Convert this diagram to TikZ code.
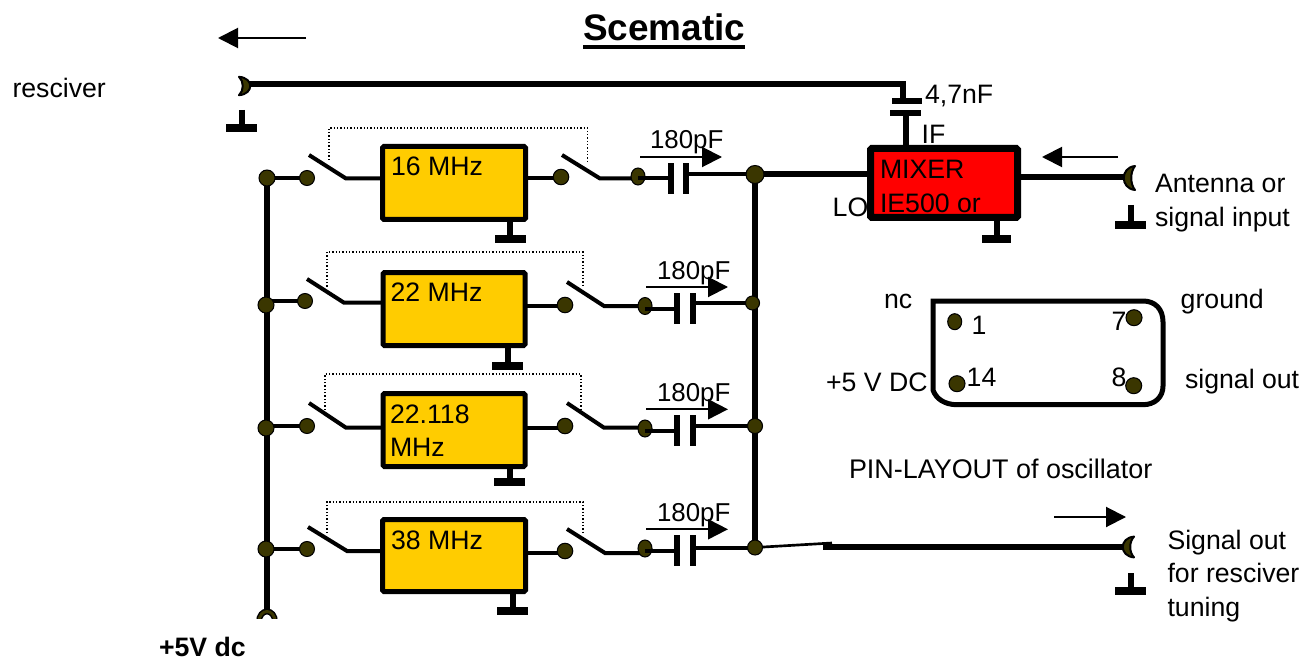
\documentclass[tikz,border=0pt]{standalone}
\usepackage{fontspec}
\setmainfont{Liberation Sans}
\usetikzlibrary{arrows.meta,shapes.geometric,backgrounds,calc}
\definecolor{dotc}{HTML}{3A3600}
\definecolor{oscc}{HTML}{FFCC00}
\tikzset{
  wire/.style={line width=3pt,draw=black},
  bigwire/.style={line width=4.5pt,draw=black},
  blk/.style={draw=black,line width=3.75pt,rounded corners=1pt,inner sep=0pt,outer sep=0pt},
  term/.style={ellipse,fill=dotc,draw=black,line width=.8pt,inner sep=0pt,outer sep=0pt,minimum width=#1*0.75pt,minimum height=#1*0.75pt},
  termtall/.style={ellipse,fill=dotc,draw=black,line width=.8pt,inner sep=0pt,outer sep=0pt,minimum width=14*0.75pt,minimum height=17*0.75pt},
  lbl/.style={font=\fontsize{20}{24}\selectfont,inner sep=0pt,outer sep=0pt,anchor=base west,yshift=-0.75pt},
  gndbar/.style={fill=black,inner sep=0pt,outer sep=0pt,minimum width=23.25pt,minimum height=6pt},
  plate/.style={fill=black,inner sep=0pt,outer sep=0pt,minimum width=4.5pt,minimum height=23.5pt},
  hplate/.style={fill=black,inner sep=0pt,outer sep=0pt,minimum width=22.5pt,minimum height=4.5pt},
  flow/.style={line width=1.5pt,-{Triangle[length=15pt,width=15pt]}},
  link/.style={line width=.95pt,dash pattern=on 1pt off 1.5pt},
}
\newcommand\txt[4]{\node[lbl] (#1) at (#2,#3) {#4};}
\newcommand\captxt[3]{\node[lbl,font=\fontsize{19.4}{23}\selectfont] (#1) at (#2,#3) {180pF};}
\newcommand\blkbox[6]{\node[blk,fill=#6,minimum width={(#4-#2-5)*0.75pt},minimum height={(#5-#3-5)*0.75pt}] (#1) at ({(#2+#4)/2},{(#3+#5)/2}) {};}
\newcommand\flowarr[4]{\coordinate (#1a) at (#2,#4);\coordinate (#1b) at (#3,#4);\draw[flow] (#1a) -- (#1b);}
\newcommand\swlink[6]{\coordinate (#1a) at (#2,#6);\coordinate (#1b) at (#2,#3);\coordinate (#1c) at (#4,#3);\coordinate (#1d) at (#4,#5);\draw[link] (#1a) -- (#1b) -- (#1c) -- (#1d);}
\newcommand\jack[5]{\coordinate (#1) at (#2,#3);
  \begin{scope}[shift={(#2,#3)},xscale=#4,yscale=#5]
  \draw[fill=dotc,draw=black,line width=1.5pt,line join=round] (-4,-8) .. controls (11,-7) and (11,7) .. (-4,8)
    .. controls (1,4) and (1,-4) .. cycle;
  \end{scope}}
\begin{document}
\begin{tikzpicture}[x=0.75pt,y=-0.75pt]
\useasboundingbox (0,0) rectangle (1316,659);
% ---- blocks
\blkbox{o1}{380}{144}{528}{222}{oscc}
\blkbox{o2}{380.5}{270}{527.5}{348}{oscc}
\blkbox{o3}{380.5}{391}{527.5}{469}{oscc}
\blkbox{o4}{380}{517}{528}{594}{oscc}
\node[draw=black,fill=red,line width=5.25pt,rounded corners=1pt,inner sep=0pt,outer sep=0pt,minimum width=110.25pt,minimum height=51.75pt] (mix) at (944,183) {};
% ---- ground bars
\node[gndbar] (g1) at (510,239) {};
\node[gndbar] (g2) at (507.5,366) {};
\node[gndbar] (g3) at (509.5,482) {};
\node[gndbar] (g4) at (512.5,611) {};
\node[gndbar,minimum width=21.75pt] (gm) at (996.5,239) {};
\node[gndbar] (ga) at (1130.5,225) {};
\node[gndbar] (gr) at (241.5,128) {};
\node[gndbar] (gs) at (1130.5,591) {};
% ---- rail and bus junctions
\node[term=16] (r1) at (267,178) {};
\node[term=16] (r2) at (266,305) {};
\node[term=16] (r3) at (266,428) {};
\node[term=16] (r4) at (266,549) {};
\node[term=18] (b1) at (755,174.5) {};
\node[term=14] (b2) at (752.5,303) {};
\node[term=15] (b3) at (755,426) {};
\node[term=15] (b4) at (755,547.5) {};
% ---- switch contacts
\node[term=15] (a1) at (307,178) {};
\node[term=15] (a2) at (305,301) {};
\node[term=15] (a3) at (307,426) {};
\node[term=15] (a4) at (307,549) {};
\node[term=15.5] (c1) at (561,177) {};
\node[term=15.5] (c2) at (565,305) {};
\node[term=15.5] (c3) at (565,426) {};
\node[term=15.5] (c4) at (565,551) {};
\node[termtall] (d1) at (638,176.5) {};
\node[termtall] (d2) at (645,306) {};
\node[termtall] (d3) at (645,428.5) {};
\node[termtall] (d4) at (645,548.5) {};
% ---- switch pivots / lever tips
\coordinate (pl1) at (346,178.5); \coordinate (tl1) at (309,155);
\coordinate (pl2) at (344,302.7); \coordinate (tl2) at (307,279);
\coordinate (pl3) at (346,427.7); \coordinate (tl3) at (309,403);
\coordinate (pl4) at (347,551);   \coordinate (tl4) at (308,527);
\coordinate (pr1) at (600,178.5); \coordinate (tr1) at (562,155);
\coordinate (pr2) at (604,306);   \coordinate (tr2) at (567,282);
\coordinate (pr3) at (604,427.7); \coordinate (tr3) at (567,403);
\coordinate (pr4) at (605,553);   \coordinate (tr4) at (567,529);
% ---- capacitors
\node[plate] (p1l) at (670.7,178.5) {}; \node[plate] (p1r) at (685.7,178.5) {};
\node[plate] (p2l) at (677,308.5) {};   \node[plate] (p2r) at (693,308.5) {};
\node[plate] (p3l) at (677,430.5) {};   \node[plate] (p3r) at (693,430.5) {};
\node[plate] (p4l) at (677,550.5) {};   \node[plate] (p4r) at (693,550.5) {};
\node[hplate] (ct) at (906.5,100.7) {};
\node[hplate,minimum width=23.25pt] (cb) at (905.5,112.7) {};
% ---- free wire ends
\coordinate (top) at (903.3,84);
\coordinate (railend) at (267,612);
\coordinate (bend) at (832,543);
\coordinate (bstart) at (823,546.7);
\coordinate (wjr) at (245,84);
\coordinate (wja) at (1127,177);
\coordinate (wjs) at (1126,546.7);
% ---- wires behind the terminals
\begin{scope}[on background layer]
  \draw[bigwire] (r1.center) -- (railend);
  \draw[bigwire] (b1.center) -- (b4.center);
  \foreach \n in {1,2,3,4} {
    \draw[wire] (tl\n) -- (pl\n) -- (o\n.west |- pl\n);
    \draw[wire] (o\n.east |- pr\n) -- (c\n.center |- pr\n);
    \draw[wire] (tr\n) -- (pr\n) -- (d\n.center |- pr\n);
    \draw[wire] (r\n.center |- a\n) -- (a\n.center);
    \draw[bigwire] (o\n.south -| g\n) -- (g\n.north);
    \draw[wire] (p\n r.east |- b\n) -- (b\n.center);
  }
  \draw[bigwire] (b1.center) -- (mix.west |- b1);
  \draw[bigwire] (wjr) -- (top) -- (top |- ct.north);
  \draw[bigwire] (cb.center) -- (cb |- mix.north);
  \draw[bigwire] (mix.east |- wja) -- (wja);
  \draw[bigwire] (mix.south -| gm) -- (gm.north);
  \draw[line width=2pt] (b4.center) -- (bend);
  \draw[bigwire] (bstart) -- (wjs);
\end{scope}
\jack{jr}{243}{86}{1}{1.15}
\jack{ja}{1131}{178}{-1}{1.5}
\jack{js}{1130}{547}{-1}{1.3}
% wires that run over the contact
\foreach \n in {1,2,3,4} { \draw[wire] (d\n.center |- p\n l) -- (p\n l.west |- p\n l); }
% ---- free ground stubs
\draw[bigwire] ($(gr.north)+(0,-14)$) -- (gr.north);
\draw[bigwire] ($(ga.north)+(0,-16)$) -- (ga.north);
\draw[bigwire] ($(gs.north)+(0,-14)$) -- (gs.north);
% ---- rail end
\begin{scope}
  \clip (250,600) rectangle (285,618);
  \draw[draw=black,line width=4.4pt] (259,622) .. controls (259,608) and (275,608) .. (275,622);
  \draw[draw=dotc,line width=2.2pt] (259,622) .. controls (259,608) and (275,608) .. (275,622);
\end{scope}
% ---- ganged switch links
\swlink{la}{329}{128}{587.5}{162}{160}
\swlink{lb}{327}{252}{583}{286.7}{286.7}
\swlink{lc}{325}{374}{581}{410}{410}
\swlink{ld}{327}{502}{583}{533}{533}
% ---- pin layout
\node[term=16,minimum width=10.5pt,minimum height=12pt] (pin1) at (954.7,321.7) {};
\node[term=16] (pin7) at (1134,317.7) {};
\node[term=16] (pin14) at (957,383.7) {};
\node[term=16] (pin8) at (1133.7,385.7) {};
\draw[line width=3.75pt] (930.7,301) -- (1143,301) .. controls (1155,301) and (1163,309) .. (1163,322)
  -- (1163,386) .. controls (1163,397) and (1155,404.7) .. (1143,404.7) -- (957,404.7)
  .. controls (945,404.7) and (936,399) .. (933,390) -- (933,301);
% ---- flow arrows
\flowarr{fa}{306}{218}{38}
\flowarr{fb}{1118}{1042}{157}
\flowarr{fc}{1054}{1126}{517}
\flowarr{fd}{640}{722}{157}
\flowarr{fe}{646}{728}{287}
\flowarr{ff}{646}{728}{409.3}
\flowarr{fg}{646}{728}{529.3}
% ---- text
\node[lbl,font=\fontsize{27.7}{32}\bfseries\selectfont] (title) at (583,39.3)
  {\setbox0\hbox{Scematic}\rlap{\rule[-6.5pt]{\wd0}{3pt}}\box0};
\txt{t1}{12.5}{96.7}{resciver}
\txt{t2}{391}{175}{16 MHz}
\txt{t3}{390.5}{300.7}{22 MHz}
\txt{t4}{390}{422.3}{22.118}
\txt{t5}{390}{455}{MHz}
\txt{t6}{391}{548}{38 MHz}
\captxt{t7}{650}{148}
\captxt{t8}{657}{278}
\captxt{t9}{657}{400.7}
\captxt{t10}{657}{520}
\txt{t11}{925}{102.7}{4,7nF}
\txt{t12}{921.7}{143}{IF}
\txt{t13}{880}{177.7}{MIXER}
\txt{t14}{880}{211.7}{IE500 or}
\txt{t15}{832.7}{215.7}{LO}
\txt{t16}{1155}{191.7}{Antenna or}
\txt{t17}{1155}{225.7}{signal input}
\txt{t18}{884}{307.7}{nc}
\txt{t19}{1180.7}{307.7}{ground}
\txt{t20}{826}{390}{+5 V DC}
\txt{t21}{1185}{387.7}{signal out}
\txt{t22}{971.7}{333}{1}
\txt{t23}{1111.7}{329}{7}
\txt{t24}{966.7}{385.7}{14}
\txt{t25}{1111.7}{385.7}{8}
\node[lbl,font=\fontsize{20.2}{24}\selectfont] (t26) at (849,477.3) {PIN-LAYOUT of oscillator};
\txt{t27}{1167.5}{548.3}{Signal out}
\txt{t28}{1167.5}{581.7}{for resciver}
\txt{t29}{1167.5}{615}{tuning}
\node[lbl,font=\fontsize{20}{24}\bfseries\selectfont] (t30) at (159,655.5) {+5V dc};
\end{tikzpicture}
\end{document}
